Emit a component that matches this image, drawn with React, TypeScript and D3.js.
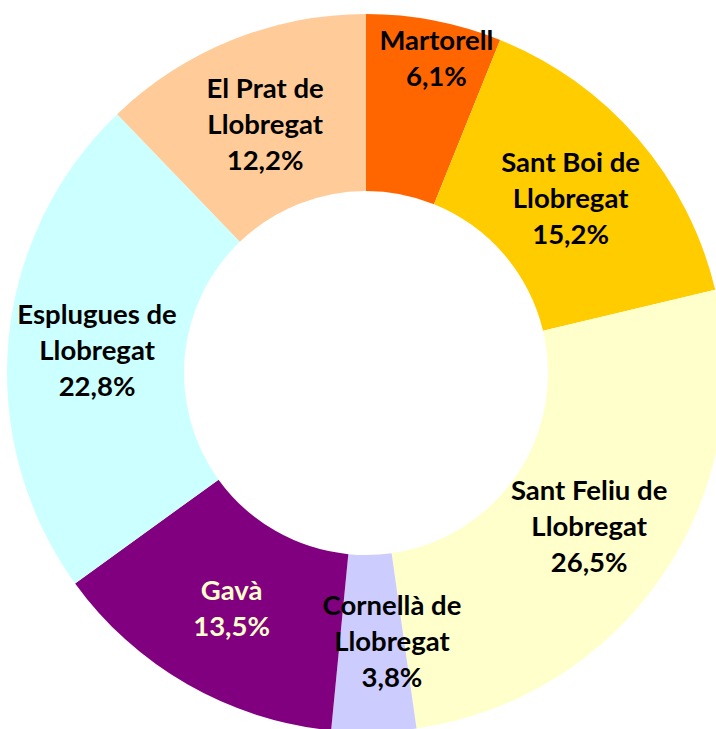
import React from "react";
import * as d3 from "d3";

const categories = [
  "Martorell",
  "Sant Boi de Llobregat",
  "Sant Feliu de Llobregat",
  "Cornellà de Llobregat",
  "Gavà",
  "Esplugues de Llobregat",
  "El Prat de Llobregat",
];
const values = [6.1, 15.2, 26.5, 3.8, 13.5, 22.8, 12.2];
const labelLines = [
  ["Martorell"],
  ["Sant Boi de", "Llobregat"],
  ["Sant Feliu de", "Llobregat"],
  ["Cornellà de", "Llobregat"],
  ["Gavà"],
  ["Esplugues de", "Llobregat"],
  ["El Prat de", "Llobregat"],
];
const colors = ["#FF6600", "#FFCC00", "#FFFFCC", "#CCCCFF", "#800080", "#CCFFFF", "#FFCC99"];
const textColors = ["#000", "#000", "#000", "#000", "#FFFFCC", "#000", "#000"];

const W = 716;
const H = 729;
const cx = 366;
const cy = 373;
const outerR = 359;
const innerR = 182;
const labelR = 270;
const lineH = 36;

// Excel-like label nudges (pixel offsets from centroid)
const nudges: Record<number, [number, number]> = {
  0: [19, -51],
  3: [20, -3],
};

export default function App() {
  const pie = d3
    .pie<number>()
    .sort(null)
    .value((d) => d)
    .startAngle(0)
    .endAngle(2 * Math.PI);
  const arcs = pie(values);
  const arc = d3.arc<d3.PieArcDatum<number>>().innerRadius(innerR).outerRadius(outerR);
  const labelArc = d3.arc<d3.PieArcDatum<number>>().innerRadius(labelR).outerRadius(labelR);
  const fmt = (v: number) => v.toFixed(1).replace(".", ",") + "%";

  return (
    <svg
      width={W}
      height={H}
      style={{ position: "absolute", left: 0, top: 0, background: "#fff" }}
    >
      <g transform={`translate(${cx},${cy})`}>
        {arcs.map((a, i) => (
          <path key={categories[i]} d={arc(a) || ""} fill={colors[i]} />
        ))}
        {arcs.map((a, i) => {
          const [x0, y0] = labelArc.centroid(a);
          const n = nudges[i] || [0, 0];
          const x = x0 + n[0];
          const y = y0 + n[1];
          const lines = [...labelLines[i], fmt(values[i])];
          const startY = y - ((lines.length - 1) * lineH) / 2;
          return (
            <text
              key={"l" + i}
              x={x}
              y={startY}
              textAnchor="middle"
              dominantBaseline="central"
              fontFamily="Lato, 'Open Sans', sans-serif"
              fontWeight="bold"
              fontSize={27.5}
              fill={textColors[i]}
            >
              {lines.map((l, j) => (
                <tspan key={j} x={x} y={startY + j * lineH} dominantBaseline="central">
                  {l}
                </tspan>
              ))}
            </text>
          );
        })}
      </g>
    </svg>
  );
}
